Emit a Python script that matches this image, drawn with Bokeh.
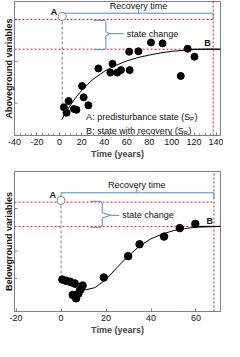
from bokeh.plotting import figure
from bokeh.layouts import column
from bokeh.models import FixedTicker, Range1d, Title
from bokeh.core.properties import value
from bokeh.embed import file_html
from bokeh.resources import INLINE

FONT = "Liberation Sans"
RED = "#e3172e"
BLUE = "#4f8ad0"
GREY = "#808080"
FRAME_W = 206

# ---------------- data: aboveground ----------------
above_t = [4.0, 6.3, 8.2, 12.9, 15.2, 20.2, 21.6, 25.8, 34.7, 47.3, 45.4, 51.5,
           54.8, 62.6, 62.1, 70.4, 81.6, 91.9, 108.1, 114.2, 120.3]
above_v = [0.90, 0.77, 1.05, 0.86, 0.84, 1.41, 1.14, 0.95, 1.83, 1.94, 1.73, 1.73,
           1.79, 1.79, 2.23, 2.24, 2.45, 2.43, 1.65, 2.30, 2.11]
above_fit_t = [2, 5, 10, 15, 20, 25, 30, 40, 50, 60, 70, 80, 90, 100, 110, 120, 130, 143.5]
above_fit_v = [0.60, 0.75, 0.96, 1.15, 1.31, 1.45, 1.57, 1.76, 1.90, 2.01, 2.09, 2.15,
               2.20, 2.24, 2.26, 2.28, 2.29, 2.29]
above_A = [2.5, 3.07]
above_SP = 3.0
above_SR = 2.29
above_recovery = 137
above_xticks = [-40, -20, 0, 20, 40, 60, 80, 100, 120, 140]
above_yticks = [1, 2, 3]

# ---------------- data: belowground ----------------
below_t = [0.6, 2.3, 4.0, 6.1, 5.2, 6.7, 7.7, 8.6, 9.6, 19.0, 29.8, 34.9, 45.8, 52.8, 59.7]
below_v = [1.33, 1.30, 1.28, 1.24, 0.97, 0.89, 1.00, 1.09, 1.19, 1.38, 1.88, 2.16, 2.34, 2.54, 2.64]
below_fit_t = [0.5, 4, 8, 11, 15, 20, 25, 30, 35, 40, 45, 50, 55, 60, 65, 71]
below_fit_v = [1.28, 1.19, 1.11, 1.09, 1.14, 1.33, 1.62, 1.89, 2.12, 2.29, 2.40, 2.48,
               2.53, 2.56, 2.57, 2.58]
below_A = [0.0, 3.19]
below_SP = 3.15
below_SR = 2.58
below_recovery = 68
below_xticks = [-20, 0, 20, 40, 60]
below_yticks = [1.36, 2, 3]


def base_fig(xr, yr, yticks, xticks, minor, ylabel, h, top_border):
    p = figure(width=224, height=h, frame_width=FRAME_W, frame_height=h - top_border - 28,
               x_range=Range1d(*xr), y_range=Range1d(*yr),
               output_backend="svg", toolbar_location=None,
               min_border_left=0, min_border_right=3, min_border_top=top_border,
               min_border_bottom=0)
    p.xgrid.visible = False
    p.ygrid.visible = False
    p.outline_line_color = GREY
    p.background_fill_color = "white"
    p.border_fill_color = "white"
    ax = p.xaxis
    ax.axis_line_color = GREY
    ax.major_tick_line_color = GREY
    ax.minor_tick_line_color = GREY
    ax.major_tick_in = 3
    ax.major_tick_out = 0
    ax.minor_tick_in = 2
    ax.minor_tick_out = 0
    ax.axis_label_text_font = FONT
    ax.axis_label_text_font_style = "bold"
    ax.axis_label_text_font_size = "9px"
    ax.major_label_text_font = FONT
    ax.major_label_text_font_size = "9px"
    ax.major_label_text_color = "#111111"
    p.xaxis.ticker = FixedTicker(ticks=xticks, minor_ticks=minor)
    p.xaxis.major_label_overrides = {t: str(t) for t in xticks}
    p.xaxis.axis_label = "Time (years)"
    p.xaxis.axis_label_standoff = 1
    p.xaxis.major_label_standoff = 3
    # y axis: ticks only (drawn inside), label as a side title
    p.yaxis.visible = False
    dx = (xr[1] - xr[0]) / FRAME_W * 3
    p.segment(x0=[xr[0]] * len(yticks), y0=yticks, x1=[xr[0] + dx] * len(yticks), y1=yticks,
              line_color=GREY, line_width=1)
    p.add_layout(Title(text=ylabel, align="center", text_font=FONT, text_font_size="9px",
                       text_font_style="bold", text_color="#111111", standoff=2), "left")
    return p


def txt(p, x, y, s, size="9px", style="normal", align="left", xo=0, yo=0):
    p.text(x=[x], y=[y], text=[s], text_font=value(FONT), text_font_size=value(size),
           text_font_style=style, text_align=align, text_baseline="middle",
           x_offset=xo, y_offset=yo, text_color="#111111")


def decorate(p, A, SP, SR, xrec, xl, dashed_to, bx, by, ylo, yhi,
             brace, brace_tip_y, sc_line_end, rec_line_y, rec_mid_x, rec_up, rec_text_y,
             rec_end_y, circle_top):
    # red reference lines
    p.line([xl, xrec], [SP, SP], line_color=RED, line_dash="2 2", line_width=1)
    p.line([xl, xrec], [SR, SR], line_color=RED, line_dash="2 2", line_width=1)
    p.line([xrec, xrec], [ylo, yhi], line_color=RED, line_dash="2 2", line_width=1)
    # dashed drop from A
    p.line([A[0], A[0]], [A[1], dashed_to], line_color=GREY, line_dash="3 2", line_width=1)
    # recovery bracket
    p.line([A[0], A[0], xrec, xrec], [circle_top, rec_line_y, rec_line_y, rec_end_y],
           line_color=BLUE, line_width=1)
    p.line([rec_mid_x, rec_mid_x], [rec_line_y, rec_up], line_color=BLUE, line_width=1)
    txt(p, rec_mid_x, rec_text_y, "Recovery time", align="center")
    # state change brace
    bxs, bys = brace
    p.line(bxs, bys, line_color=BLUE, line_width=1)
    p.line([bxs[4], sc_line_end], [brace_tip_y, brace_tip_y], line_color=BLUE, line_width=1)
    txt(p, sc_line_end, brace_tip_y, "state change", xo=3)
    # A marker and labels
    p.scatter([A[0]], [A[1]], size=8, marker="circle", fill_color="white", line_color=GREY)
    txt(p, A[0], A[1], "A", style="bold", align="right", xo=-5, yo=-5)
    txt(p, bx, by, "B", style="bold", align="left")


def brace_pts(xl, xs, xt, ytop, ybot, ymid, dx, dy):
    xs_ = [xl, xs - dx, xs, xs, xt, xs, xs, xs - dx, xl]
    ys_ = [ytop, ytop, ytop - dy, ymid + dy, ymid, ymid - dy, ybot + dy, ybot, ybot]
    return xs_, ys_


# ---------------- top panel ----------------
p1 = base_fig((-40, 143.5), (0.227, 3.43), above_yticks, above_xticks,
              list(range(-40, 145, 5)), "Aboveground variables", 163, 1)
decorate(p1, above_A, above_SP, above_SR, above_recovery, -40, 0.9, 129, 2.43,
         0.227, 3.43,
         brace_pts(30.5, 41.4, 44.8, 2.98, 2.28, 2.66, 1.0, 0.05), 2.66, 57.3,
         3.15, 70.5, 3.25, 3.32, 3.02, 3.16)
p1.line([114, 143.5], [above_SR, above_SR], line_color="black", line_width=1)
p1.line(above_fit_t, above_fit_v, line_color="black", line_width=1)
p1.scatter(above_t, above_v, size=7, marker="circle", fill_color="black", line_color="black")
# notes with subscripts
txt(p1, 23.8, 0.66, "A: predisturbance state (S")
txt(p1, 23.8, 0.66, "P", size="6px", xo=104, yo=2)
txt(p1, 23.8, 0.66, ")", xo=108.5)
txt(p1, 23.8, 0.34, "B: state with recovery (S")
txt(p1, 23.8, 0.34, "R", size="6px", xo=97.5, yo=2)
txt(p1, 23.8, 0.34, ")", xo=102.3)

# ---------------- bottom panel ----------------
p2 = base_fig((-20.7, 70.9), (0.58, 3.87), below_yticks, below_xticks, [],
              "Belowground variables", 178, 10)
decorate(p2, below_A, below_SP, below_SR, below_recovery, -20.7, 1.36, 64.7, 2.70,
         0.58, 3.87,
         brace_pts(13, 18.3, 22.1, 3.17, 2.56, 2.84, 0.6, 0.06), 2.84, 25.9,
         3.37, 33.7, 3.51, 3.56, 3.23, 3.28)
p2.line([60, 70.9], [below_SR, below_SR], line_color="black", line_width=1)
p2.line(below_fit_t, below_fit_v, line_color="black", line_width=1)
p2.scatter(below_t, below_v, size=7.5, marker="circle", fill_color="black", line_color="black")

layout = column(p1, p2, spacing=0)
open("out.html", "w").write(file_html(layout, INLINE))
